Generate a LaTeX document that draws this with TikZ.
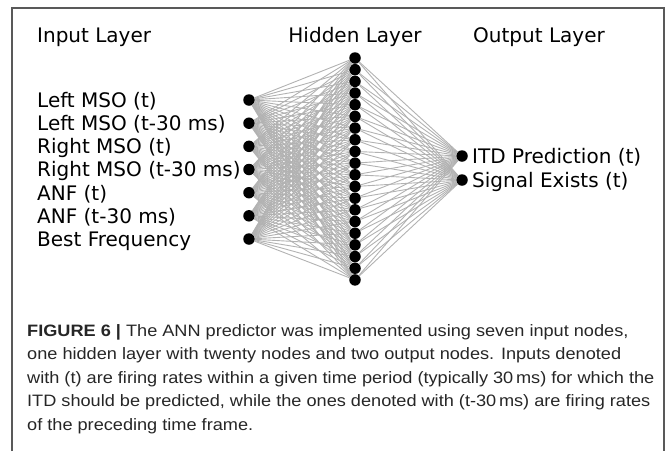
\documentclass[tikz,border=0pt]{standalone}
\usepackage{fontspec}
\setmainfont{DejaVu Sans}
\newfontfamily\capfont[FakeStretch=1.10]{Liberation Sans}
\usepackage{tikz}

\tikzset{
  neuron/.style={circle,fill=black,inner sep=0pt,minimum size=11.5pt},
  conn/.style={draw=black!30,line width=0.9pt},
  lbl/.style={inner sep=0pt,anchor=base west,font=\fontsize{20}{20}\selectfont},
  capline/.style={inner sep=0pt,anchor=base west,text=black!85,font=\capfont\fontsize{16.5}{16.5}\selectfont}
}

\begin{document}
\begin{tikzpicture}[x=1pt,y=-1pt]
        \useasboundingbox (0,0) rectangle (667,451);
        \draw[black!65,line width=1.3pt] (12,451) -- (12,8) -- (664,8) -- (664,451);

        \node[lbl] (tin) at (37,42) {Input Layer};
        \node[lbl,anchor=base] (thid) at (355,42) {Hidden Layer};
        \node[lbl] (tout) at (473,42) {Output Layer};

        \node[neuron] (i1) at (249,100) {};
        \node[neuron] (i2) at (249,123.2) {};
        \node[neuron] (i3) at (249,146.3) {};
        \node[neuron] (i4) at (249,169.5) {};
        \node[neuron] (i5) at (249,192.7) {};
        \node[neuron] (i6) at (249,215.8) {};
        \node[neuron] (i7) at (249,239) {};

        \foreach \j in {1,...,20}
            \node[neuron] (h\j) at (355,{58+(\j-1)*11.68}) {};

        \node[neuron] (o1) at (462,156) {};
        \node[neuron] (o2) at (462,180) {};

        \node[lbl] (li1) at (37,107.3) {Left MSO (t)};
        \node[lbl] (li2) at (37,130.5) {Left MSO (t-30 ms)};
        \node[lbl] (li3) at (37,153.6) {Right MSO (t)};
        \node[lbl] (li4) at (37,176.8) {Right MSO (t-30 ms)};
        \node[lbl] (li5) at (37,200) {ANF (t)};
        \node[lbl] (li6) at (37,223.1) {ANF (t-30 ms)};
        \node[lbl] (li7) at (37,246.3) {Best Frequency};

        \node[lbl] (lo1) at (472,163.3) {ITD Prediction (t)};
        \node[lbl] (lo2) at (472,187.3) {Signal Exists (t)};

        \foreach \i in {1,...,7}
            \foreach \j in {1,...,20}
                \draw[conn] (i\i) -- (h\j);
        \foreach \j in {1,...,20}
            \foreach \k in {1,2}
                \draw[conn] (h\j) -- (o\k);

        \node[capline] (c1) at (27,336) {\textbf{FIGURE 6 |} The ANN predictor was implemented using seven input nodes,};
        \node[capline] (c2) at (27,359.5) {one hidden layer with twenty nodes and two output nodes. Inputs denoted};
        \node[capline] (c3) at (27,383) {with (t) are firing rates within a given time period (typically 30\,ms) for which the};
        \node[capline] (c4) at (27,406.5) {ITD should be predicted, while the ones denoted with (t-30\,ms) are firing rates};
        \node[capline] (c5) at (27,430) {of the preceding time frame.};

    \end{tikzpicture}
\end{document}
